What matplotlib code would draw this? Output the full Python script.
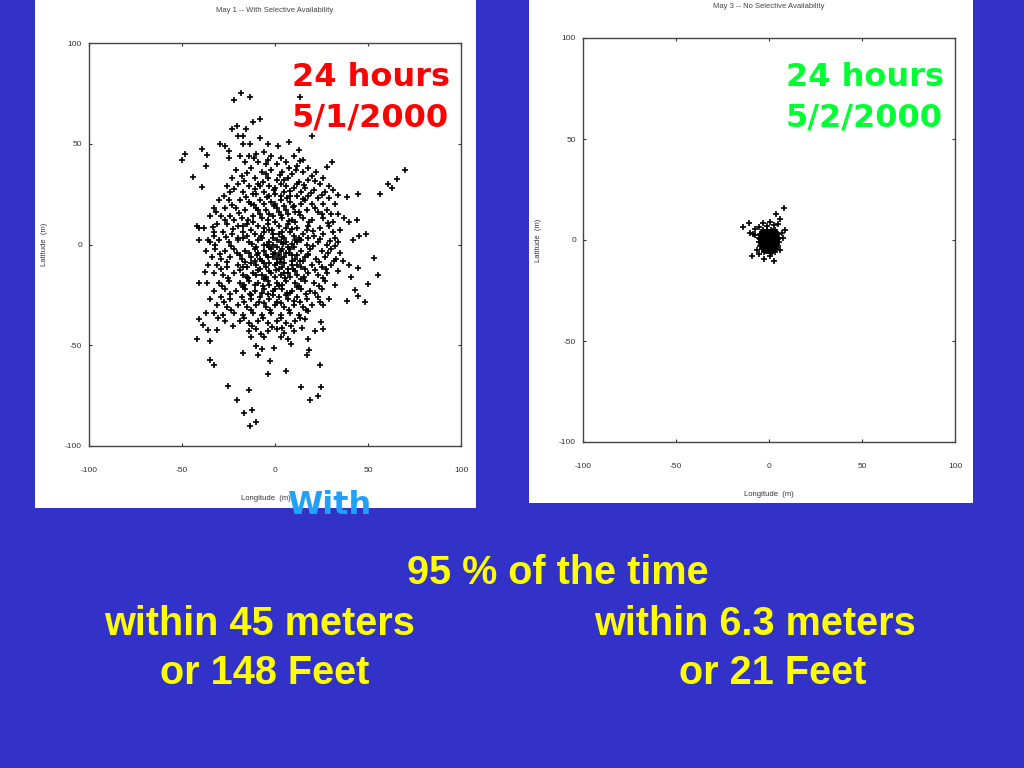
import numpy as np
import matplotlib
matplotlib.use("Agg")
import matplotlib.pyplot as plt
from matplotlib.patches import Rectangle

W, H = 1024, 768
BG = "#3232C8"

ticks = [-100, -50, 0, 50, 100]

# sparse points (lon, lat)
may1_outer = [
    (-18.5, 75), (-22, 71.5), (-13.5, 73), (13.4, 73), (-11.6, 61), (-8, 62.5), (-23, 57.5), (-20.6, 58.7),
    (-15.6, 57.5), (-19.7, 54), (-17.4, 53.7), (20, 54), (-29.6, 50), (-27, 49), (-39, 47.6), (-36.5, 44.6),
    (-48.4, 45), (-50, 42), (-24.5, 46.4), (-24.5, 43), (-19, 44), (-13.4, 50), (-8, 53), (-17, 49.8),
    (-3.6, 49.8), (1.8, 49), (7.5, 51), (13, 47), (-37, 39), (-44, 33.5), (-39, 28.6), (30.5, 41),
    (27.8, 38.5), (70, 37), (65.5, 32.4), (61, 30), (63, 28), (56.5, 25), (44.8, 25), (38.5, 23.6), (34, 24.5),
    (-42, -47), (-35, -48), (-35, -57.5), (-32.6, -60), (-25.4, -70), (-20.6, -77.4), (-16.7, -83.6),
    (-12.5, -82), (-14, -72.4), (-13.4, -90), (-10.4, -88), (-17.4, -54), (-9.3, -55), (-10.4, -50.6),
    (-6.8, -52), (-2.7, -58), (-4, -64.5), (6, -63), (-0.4, -51.4), (8.6, -49.4), (17, -55), (18.5, -52.6),
    (18, -47), (24, -60), (14, -70.7), (24.5, -70.7), (23, -75), (19, -77.4), (26, -42), (24.5, -38.5),
    (21.5, -43), (55.5, -15), (50, -19.7), (53, -6.8), (48.4, -28.3), (44.8, -25.8), (38.5, -27.8),
    (43, -22.5), (40, -10), (44.8, -11.7), (41, -16), (36.4, -8.4), (-41, -19), (-36.7, -19), (-37.6, -13.4),
    (-41, -37), (-38.5, -40), (-36, -42.3), (-31, -42.3), (-22.8, -40.3), (45, 4), (49, 5), (42, 2), (40, 11),
    (44, 12), (-41, 8), (-42, 9), (-38, 8), (-41, 2), (-36, 2), (-33, 4),
]

# estimated positions inside the dense cloud, top to bottom
may1_cloud = [
    (-14, 44), (-10, 45), (-6, 46), (-2, 44), (3, 43), (10, 44), (15, 42), (-16, 41), (-9, 41), (-5, 40), (1, 40),
    (6, 41), (12, 39), (18, 38), (22, 36), (-21, 37), (-13, 38), (-7, 36), (-2, 37), (4, 36), (9, 35), (15, 36),
    (20, 34), (26, 33), (-23, 33), (-18, 34), (-11, 33), (-4, 33), (1, 32), (7, 33), (13, 31), (18, 32), (24, 30),
    (29, 29), (-26, 29), (-20, 30), (-14, 29), (-9, 30), (-3, 29), (3, 30), (10, 28), (16, 28), (21, 27), (27, 26),
    (31, 27), (-24, 26), (-17, 26), (-12, 25), (-6, 26), (0, 25), (5, 26), (12, 24), (18, 24), (23, 23), (29, 23),
    (-30, 22), (-25, 22), (-19, 22), (-14, 21), (-8, 22), (-2, 21), (3, 22), (8, 21), (14, 20), (20, 20), (26, 20),
    (32, 20), (-33, 18), (-27, 18), (-21, 18), (-16, 17), (-10, 18), (-5, 17), (1, 18), (6, 17), (11, 16), (17, 17),
    (23, 16), (28, 17), (34, 15), (-35, 14), (-29, 14), (-24, 14), (-18, 13), (-12, 14), (-7, 13), (-1, 14), (4, 13),
    (9, 12), (15, 13), (20, 12), (26, 13), (31, 11), (37, 13), (-31, 10), (-26, 10), (-20, 9), (-15, 10), (-9, 9),
    (-4, 10), (2, 9), (7, 10), (12, 8), (18, 9), (24, 8), (29, 9), (35, 7), (-33, 6), (-28, 6), (-23, 5), (-17, 6),
    (-11, 5), (-6, 6), (-1, 5), (4, 6), (10, 4), (15, 5), (21, 4), (26, 5), (32, 3), (-35, 1), (-30, 2), (-25, 1),
    (-20, 2), (-14, 1), (-9, 2), (-3, 1), (1, 2), (6, 1), (12, 1), (17, 0), (23, 1), (28, 0), (34, 1), (-37, -3),
    (-32, -2), (-27, -3), (-22, -2), (-16, -3), (-11, -2), (-6, -3), (-2, -2), (3, -3), (8, -2), (14, -3), (19, -2),
    (25, -3), (30, -2), (35, -4), (-34, -6), (-29, -7), (-24, -6), (-18, -7), (-13, -6), (-8, -7), (-4, -6), (1, -7),
    (5, -6), (11, -7), (16, -6), (22, -7), (27, -6), (33, -7), (-36, -10), (-31, -10), (-26, -11), (-20, -10),
    (-15, -11), (-10, -10), (-5, -11), (0, -10), (4, -11), (9, -10), (14, -11), (20, -10), (25, -11), (30, -10),
    (-33, -14), (-28, -15), (-22, -14), (-17, -15), (-12, -14), (-7, -15), (-2, -14), (3, -15), (7, -14), (12, -15),
    (18, -14), (23, -15), (28, -14), (34, -13), (-30, -19), (-25, -18), (-19, -19), (-14, -18), (-9, -19), (-4, -18),
    (1, -19), (6, -18), (11, -19), (16, -18), (21, -19), (27, -18), (32, -20), (-33, -23), (-27, -22), (-21, -23),
    (-16, -22), (-11, -23), (-6, -22), (-1, -23), (4, -22), (9, -23), (14, -22), (19, -23), (25, -22), (-35, -27),
    (-29, -26), (-24, -27), (-18, -26), (-13, -27), (-8, -26), (-3, -27), (2, -26), (7, -27), (12, -26), (17, -27),
    (23, -26), (29, -27), (-31, -30), (-26, -31), (-20, -30), (-15, -31), (-10, -30), (-5, -31), (0, -30), (5, -31),
    (10, -30), (15, -31), (20, -30), (26, -30), (-37, -34), (-33, -34), (-28, -35), (-22, -34), (-17, -35), (-12, -34),
    (-7, -35), (-2, -34), (3, -35), (8, -34), (13, -35), (18, -33), (-27, -38), (-19, -38), (-14, -39), (-9, -38),
    (-4, -39), (1, -38), (6, -39), (11, -38), (16, -37), (-14, -43), (-10, -42), (-4, -43), (1, -42), (5, -44),
    (10, -43), (-13, -46), (-6, -46), (3, -46), (7, -47),
]

# tight core around the origin, where the crosses merge
may1_core = [
    (-22, 12), (-17, 9), (-12, 11), (-6, 8), (0, 11), (6, 8), (11, 11), (17, 7), (-20, 3), (-15, 4), (-10, -1),
    (-7, 3), (-3, 7), (-1, 3), (2, 5), (5, 3), (8, 6), (11, 2), (14, 2), (18, 3), (-19, -5), (-14, -4), (-11, -8),
    (-9, -4), (-6, 0), (-5, -5), (-3, -1), (-1, 0), (0, -4), (1, -1), (2, -5), (3, 1), (4, -2), (6, -4), (7, -1),
    (9, -5), (10, -1), (12, -5), (15, -8), (18, -5), (-17, -11), (-13, -9), (-8, -12), (-6, -9), (-3, -9), (-1, -6),
    (1, -9), (3, -7), (5, -9), (7, -12), (9, -8), (12, -10), (16, -12), (-15, -16), (-10, -15), (-6, -17), (-3, -13),
    (0, -16), (2, -12), (5, -14), (8, -16), (11, -13), (14, -17), (-17, -21), (-11, -20), (-7, -24), (-3, -20),
    (0, -22), (4, -20), (8, -24), (12, -21), (-13, -25), (-6, -29), (-1, -25), (3, -29), (6, -25), (10, -28),
    (-9, 17), (-3, 15), (2, 16), (7, 15), (13, 16), (-13, 20), (-6, 20), (0, 20), (5, 19), (10, 19), (16, 22),
    (-10, 25), (-3, 24), (3, 24), (8, 24), (14, 26), (-8, 29), (0, 28), (6, 29), (12, 30),
]

# second pass over the cloud, filling the gaps left by the rows above
may1_fill = [
    (-11.5, 42.7), (-3.6, 41.8), (7.7, 38.2), (13.6, 41.3), (-15.2, 35.6), (-4.7, 35.1), (2.8, 34.4), (11.4, 36.9),
    (21.3, 31.4), (-16.8, 31.7), (-6.3, 31.2), (4.6, 31.8), (15.7, 29.6), (-21.8, 27.4), (-10.7, 27.6), (-0.8, 27.2),
    (8.3, 26.4), (19.1, 25.8), (25.4, 24.7), (-27.6, 24.3), (-15.4, 23.8), (-4.4, 23.4), (6.6, 23.2), (14.8, 22.7),
    (-23.2, 19.8), (-11.3, 19.6), (-0.6, 19.3), (9.7, 18.4), (21.4, 18.2), (30.2, 15.1), (-31.6, 16.2), (-19.4, 15.7),
    (-8.1, 15.3), (3.4, 14.8), (13.2, 14.6), (25.3, 15.2), (-26.7, 12.1), (-14.3, 12.3), (-3.7, 12.2), (7.6, 11.6),
    (18.3, 11.2), (28.4, 10.7), (-33.4, 8.6), (-22.6, 7.7), (-12.7, 7.4), (-1.8, 7.2), (9.4, 7.6), (20.6, 6.8),
    (31.3, 6.4), (-26.2, 3.6), (-17.4, 3.2), (-7.6, 4.1), (3.6, 3.7), (12.7, 3.4), (24.2, 2.7), (29.7, 1.8), (-32.4, -0.4),
    (-23.7, -0.6), (-12.6, 0.4), (-4.4, -0.3), (4.4, 0.3), (9.3, 0.2), (20.4, -0.7), (32.3, -0.6), (-29.4, -4.6),
    (-20.3, -4.4), (-9.6, -5.4), (-1.3, -4.6), (7.4, -4.3), (17.6, -4.7), (28.3, -4.2), (-25.7, -8.6), (-16.3, -8.7),
    (-6.8, -8.3), (2.7, -8.8), (13.3, -8.4), (23.8, -8.7), (31.6, -8.3), (-29.2, -12.4), (-18.7, -12.6), (-9.3, -12.7),
    (0.6, -12.6), (9.7, -12.3), (21.4, -12.7), (27.6, -12.3), (-25.3, -16.4), (-14.6, -16.7), (-4.7, -16.3), (5.4, -16.6),
    (15.6, -16.3), (25.7, -16.6), (-28.3, -20.6), (-16.8, -20.3), (-6.6, -20.7), (2.3, -20.4), (12.7, -20.6), (23.4, -20.4),
    (-24.3, -24.6), (-13.7, -24.4), (-3.6, -24.7), (6.7, -24.3), (16.4, -24.6), (21.7, -24.3), (-27.4, -28.6), (-16.6, -28.4),
    (-8.4, -28.7), (1.3, -28.4), (13.3, -28.7), (24.3, -28.3), (-23.6, -32.6), (-12.7, -32.4), (-2.6, -32.7), (7.4, -32.4),
    (16.7, -32.3), (-30.4, -36.6), (-16.6, -36.4), (-6.7, -36.6), (3.4, -36.3), (13.6, -36.7), (-12.4, -40.6), (-1.7, -40.7),
    (8.4, -40.4), (-7.6, -44.3), (3.6, -41.4), (14.7, -41.3),
]

# May 3 panel, sparse points around the blob
may3_outer = [
    (8.2, 15.7), (3.8, 12.9), (5.9, 10.2), (-13.8, 6.6), (-10.6, 8.3), (-10.2, 3.3), (-7.5, 5.3), (-9.3, -7.8),
    (-2.5, -9.6), (2.7, -10.2), (-6.6, -5), (8.6, 5), (7.7, 0.8), (-3, 8.3), (0.5, 9), (-7.5, 2.5), (-5.2, 6.6),
    (5.9, -5), (-8.8, 3.2), (-1.2, 7), (2.5, 7.6), (4.8, 8), (6.8, 3.5), (-5.5, -7), (0.5, -8),
]
may3_core = [
    (-5, 3), (-4, 4), (-3, 5), (-1, 5), (1, 5), (3, 5), (4, 4), (5, 3), (-5.5, 1), (-4, 1.5), (-2, 3), (0, 3), (2, 3),
    (4, 2), (5.5, 1), (-5.5, -1), (-4, -0.5), (-2, 1), (0, 1), (2, 1), (3.5, 0), (5.5, -1), (-5, -3), (-3, -2), (-1, -1),
    (1, -1), (3, -2), (5, -3), (-4, -4.5), (-2, -4), (0, -3), (2, -4), (4, -4.5), (-2.5, -6), (-0.5, -5.5), (1.5, -6),
    (3, -6), (0, 0), (-1, 2), (1, -3), (-3, 0), (2.5, 2), (-4.4, 2.4), (-2.6, 4.1), (-0.4, 4.2), (2.1, 4.3), (3.4, 3.3),
    (-3.3, 1.8), (-1.2, 0.3), (0.8, 2.2), (3.1, 1), (4.6, 0.4), (-4.6, 0.3), (-3.6, -1.2), (-1.8, -1.6), (0.4, -1.8),
    (2.2, -0.4), (4.2, -1.4), (-4.2, -2.6), (-2.4, -3), (-0.8, -2.4), (1.8, -2.6), (3.8, -3), (-3.2, -4), (-1, -4.4),
    (0.8, -4.6), (3, -4.2), (-1.6, -5.2), (0.4, -6.2), (2.4, -5.2), (-1.5, 3.4), (1, 3.6), (-2.8, 2.6), (1.6, 0.2),
    (-0.4, -0.6), (2.8, -1.2), (-2.2, -0.6), (0.2, 1.8),
]


def draw_panel(rect, plot_box, title, points, size, title_xy, xlabel_xy, ylabel_xy):
    fig.add_artist(Rectangle((rect[0] / W, 1 - rect[3] / H), (rect[2] - rect[0]) / W, (rect[3] - rect[1]) / H,
                             transform=fig.transFigure, fc="white", ec="none", zorder=-1))
    left, top, right, bottom = plot_box
    ax = fig.add_axes([left / W, 1 - bottom / H, (right - left) / W, (bottom - top) / H])
    ax.patch.set_alpha(0)
    ax.set_xlim(-100, 100)
    ax.set_ylim(-100, 100)
    ax.set_xticks(ticks)
    ax.set_yticks(ticks)
    ax.tick_params(direction="in", top=True, right=True, length=2, width=0.8, labelsize=6,
                   labelcolor="#333333", color="#333333")
    ax.tick_params(axis="x", pad=15)
    ax.tick_params(axis="y", pad=5)
    for s in ax.spines.values():
        s.set_color("#444444")
        s.set_linewidth(1.0)
    lon, lat = np.array(points).T
    ax.plot(lon, lat, "+", color="black", ms=size, mew=1.2)
    fig.text(title_xy[0] / W, 1 - title_xy[1] / H, title, fontsize=5.5, color="#444444", ha="center", va="center")
    fig.text(xlabel_xy[0] / W, 1 - xlabel_xy[1] / H, "Longitude  (m)", fontsize=5.5, color="#333333", ha="center", va="center")
    fig.text(ylabel_xy[0] / W, 1 - ylabel_xy[1] / H, "Latitude  (m)", fontsize=5.5, color="#333333", rotation=90, ha="center", va="center")


plt.rcParams["font.family"] = ["Liberation Sans", "DejaVu Sans"]
plt.rcParams["axes.unicode_minus"] = False
fig = plt.figure(figsize=(W / 100, H / 100), dpi=100, facecolor=BG)

draw_panel((35, 0, 476, 508), (89, 43, 461, 446), "May 1 -- With Selective Availability",
           may1_outer + may1_cloud + may1_core + may1_fill, 4.5, (275, 10), (266, 499), (44, 244))
draw_panel((529, 0, 973, 503), (583, 38, 955, 442), "May 3 -- No Selective Availability",
           may3_outer + may3_core, 4.5, (769, 6), (769, 495), (539, 240))


def label(x, y, s, color, size=28.5, family="Liberation Sans"):
    fig.text(x / W, 1 - y / H, s, color=color, fontsize=size, fontweight="bold", family=family, ha="left", va="center")


label(292, 77, "24 hours", "#FF0000", 23, "DejaVu Sans")
label(292, 118, "5/1/2000", "#FF0000", 23, "DejaVu Sans")
label(786, 77, "24 hours", "#00FF33", 23, "DejaVu Sans")
label(786, 118, "5/2/2000", "#00FF33", 23, "DejaVu Sans")
label(287, 506, "With", "#22A0FF", 23, "DejaVu Sans")

label(407, 573, "95 % of the time", "#FFFF00")
label(104, 624, "within 45 meters", "#FFFF00")
label(594, 624, "within 6.3 meters", "#FFFF00")
label(160, 673, "or 148 Feet", "#FFFF00")
label(679, 673, "or 21 Feet", "#FFFF00")

fig.savefig("out.png", dpi=100, facecolor=fig.get_facecolor())
